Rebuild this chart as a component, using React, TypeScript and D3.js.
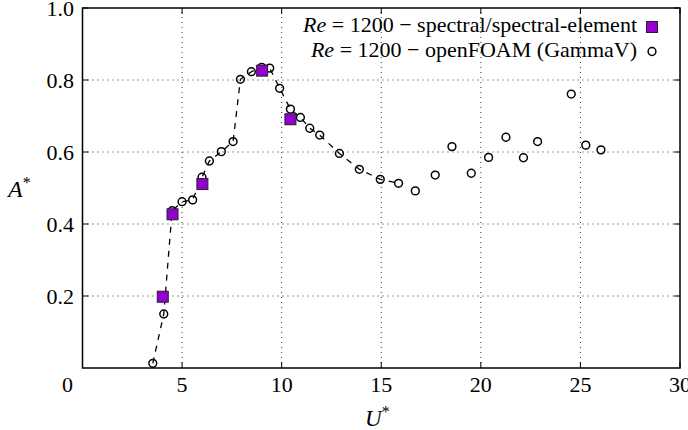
import React from "react";
import * as d3 from "d3";

const foamU = [3.53, 4.08, 4.5, 5.0, 5.53, 6.0, 6.37, 6.97, 7.56, 7.93, 8.48, 9.0, 9.4, 9.9, 10.44, 10.94, 11.41, 11.91, 12.9, 13.9, 14.95, 15.87, 16.71, 17.71, 18.55, 19.52, 20.39, 21.26, 22.14, 22.85, 24.54, 25.27, 26.03];
const foamA = [0.013, 0.15, 0.437, 0.462, 0.467, 0.53, 0.575, 0.601, 0.629, 0.802, 0.823, 0.835, 0.833, 0.777, 0.719, 0.696, 0.666, 0.647, 0.596, 0.552, 0.524, 0.513, 0.492, 0.536, 0.615, 0.541, 0.585, 0.641, 0.584, 0.629, 0.761, 0.619, 0.606];
const specU = [4.03, 4.52, 6.02, 9.02, 10.44];
const specA = [0.198, 0.427, 0.511, 0.826, 0.691];
const trendMaxU = 16;

const xTicks = [0, 5, 10, 15, 20, 25, 30];
const yTicks = [0.2, 0.4, 0.6, 0.8, 1.0];
const xGrid = [5, 10, 15, 20, 25];
const yGrid = [0.2, 0.4, 0.6, 0.8];
const legendLabels = ["spectral/spectral-element", "openFOAM (GammaV)"];

const W = 688, H = 430;
const FONT = "'Liberation Serif', 'Times New Roman', serif";
const FS = 22;

export default function App() {
  const x = d3.scaleLinear().domain([0, 30]).range([82.5, 680]);
  const y = d3.scaleLinear().domain([0, 1]).range([368, 8]);
  const foam = foamU.map((u, i) => ({ u, a: foamA[i] }));
  const spec = specU.map((u, i) => ({ u, a: specA[i] }));
  const trend = foam.filter((d) => d.u <= trendMaxU);
  const line = d3.line<{ u: number; a: number }>().x((d) => x(d.u)).y((d) => y(d.a));
  const [x0, x1] = x.range();
  const [y0, y1] = y.range();
  const sq = 11;
  return (
    <svg width={W} height={H} style={{ position: "absolute", left: 0, top: 0, background: "#fff" }} fontFamily={FONT}>
      {xGrid.map((t) => (
        <line key={"gx" + t} x1={x(t)} x2={x(t)} y1={y0} y2={y1} stroke="#333" strokeWidth={1} strokeDasharray="1,4" />
      ))}
      {yGrid.map((t) => (
        <line key={"gy" + t} x1={x0} x2={x1} y1={y(t)} y2={y(t)} stroke="#333" strokeWidth={1} strokeDasharray="1,4" />
      ))}
      {xTicks.map((t) => (
        <g key={"tx" + t}>
          <line x1={x(t)} x2={x(t)} y1={y0} y2={y0 - 6} stroke="#000" />
          <line x1={x(t)} x2={x(t)} y1={y1} y2={y1 + 6} stroke="#000" />
          <text x={x(t) + (t === 0 ? -15 : 0)} y={392} textAnchor="middle" fontSize={FS}>{t}</text>
        </g>
      ))}
      {yTicks.map((t) => (
        <g key={"ty" + t}>
          <line x1={x0} x2={x0 + 6} y1={y(t)} y2={y(t)} stroke="#000" />
          <line x1={x1} x2={x1 - 6} y1={y(t)} y2={y(t)} stroke="#000" />
          <text x={74} y={y(t) + 8} textAnchor="end" fontSize={FS}>{t.toFixed(1)}</text>
        </g>
      ))}
      <rect x={x0} y={y1} width={x1 - x0} height={y0 - y1} fill="none" stroke="#000" strokeWidth={1.5} />
      <path d={line(trend) || ""} fill="none" stroke="#000" strokeWidth={1.3} strokeDasharray="6,6" />
      {foam.map((d, i) => (
        <circle key={"c" + i} cx={x(d.u)} cy={y(d.a)} r={3.9} fill="none" stroke="#000" strokeWidth={1.5} />
      ))}
      {spec.map((d, i) => (
        <rect key={"s" + i} x={x(d.u) - sq / 2} y={y(d.a) - sq / 2} width={sq} height={sq} fill="#9400D3" stroke="#222" strokeWidth={1} />
      ))}
      {legendLabels.map((lab, i) => (
        <text key={"l" + i} x={637} y={32 + i * 24.5} textAnchor="end" fontSize={FS}>
          <tspan fontStyle="italic">Re</tspan>
          <tspan> = 1200 {"\u2212"} {lab}</tspan>
        </text>
      ))}
      <rect x={652 - 5.5} y={27 - 5.5} width={11} height={11} fill="#9400D3" stroke="#222" strokeWidth={1} />
      <circle cx={652} cy={51.5} r={3.9} fill="none" stroke="#000" strokeWidth={1.5} />
      <text x={8} y={197} fontSize={24} fontStyle="italic">A<tspan fontStyle="normal" fontSize={16} dy={-9}>*</tspan></text>
      <text x={365} y={426} fontSize={23} fontStyle="italic">U<tspan fontStyle="normal" fontSize={16} dy={-9}>*</tspan></text>
    </svg>
  );
}
